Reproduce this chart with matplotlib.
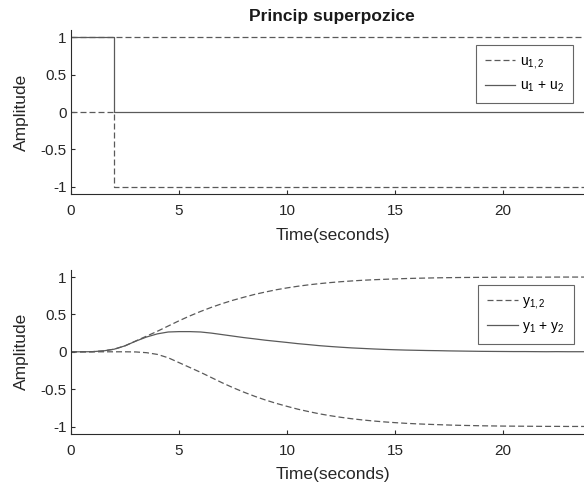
import numpy as np
import matplotlib
matplotlib.use("Agg")
import matplotlib.pyplot as plt

plt.rcParams['font.family'] = ['Liberation Sans', 'DejaVu Sans']
plt.rcParams['mathtext.fontset'] = 'custom'
plt.rcParams['mathtext.rm'] = 'Liberation Sans'
plt.rcParams['mathtext.it'] = 'Liberation Sans'

# input signals: switching times and levels (held until the next time)
t_in = [0, 2, 24]
u1 = [1, 1, 1]
u2 = [0, -1, -1]

# step response y1, sampled every 0.5 s from 0 to 24 s
t_out = np.arange(0, 24.5, 0.5)
y1 = [0.0, 0.0, 0.002, 0.012, 0.035, 0.08, 0.145, 0.21, 0.275, 0.345,
      0.415, 0.48, 0.54, 0.595, 0.645, 0.69, 0.73, 0.768, 0.80, 0.83,
      0.855, 0.877, 0.896, 0.912, 0.926, 0.938, 0.948, 0.957, 0.964, 0.970,
      0.975, 0.980, 0.984, 0.987, 0.990, 0.992, 0.994, 0.995, 0.996, 0.997,
      0.998, 0.998, 0.999, 0.999, 0.999, 1.0, 1.0, 1.0, 1.0]
delay = 2.0  # second input starts 2 s later with opposite sign

y1 = np.array(y1)
shift = int(delay / 0.5)
y2 = np.concatenate([np.zeros(shift), -y1[:-shift]])
u_sum = np.array(u1) + np.array(u2)
y_sum = y1 + y2

line_col = '#5a5a5a'
axis_col = '#2b2b2b'
dash = (4.8, 2.4)

fig = plt.figure(figsize=(5.84, 4.84), dpi=100)
ax1 = fig.add_axes([0.1216, 0.5986, 0.8877, 0.3399])
ax2 = fig.add_axes([0.1216, 0.1033, 0.8877, 0.3397])

ax1.plot(t_in, u1, color=line_col, lw=0.9, dashes=dash, drawstyle='steps-post', label=r'$\mathregular{u_{1,2}}$')
ax1.plot(t_in, u2, color=line_col, lw=0.9, dashes=dash, drawstyle='steps-post')
ax1.plot(t_in, u_sum, color=line_col, lw=0.9, drawstyle='steps-post',
         label=r'$\mathregular{u_1}$ + $\mathregular{u_2}$')

ax2.plot(t_out, y1, color=line_col, lw=0.9, dashes=dash, label=r'$\mathregular{y_{1,2}}$')
ax2.plot(t_out, y2, color=line_col, lw=0.9, dashes=dash)
ax2.plot(t_out, y_sum, color=line_col, lw=0.9,
         label=r'$\mathregular{y_1}$ + $\mathregular{y_2}$')

legend_anchor = {ax1: (0.968, 0.909), ax2: (0.970, 0.906)}

for ax in (ax1, ax2):
    ax.set_xlim(0, 24)
    ax.set_ylim(-1.1, 1.1)
    ax.set_xticks([0, 5, 10, 15, 20])
    ax.set_yticks([-1, -0.5, 0, 0.5, 1])
    ax.set_yticklabels(['-1', '-0.5', '0', '0.5', '1'])
    ax.spines['top'].set_visible(False)
    ax.spines['right'].set_visible(False)
    for s in ('left', 'bottom'):
        ax.spines[s].set_color(axis_col)
        ax.spines[s].set_linewidth(0.8)
    ax.tick_params(direction='in', length=3, width=0.8, color=axis_col,
                   labelcolor='#262626', labelsize=11)
    ax.tick_params(axis='x', pad=7)
    ax.tick_params(axis='y', pad=3)
    ax.set_xlabel('Time(seconds)', fontsize=12.5, color='#262626')
    ax.xaxis.label.set_va('center')
    ax.xaxis.set_label_coords(0.505, -0.248)
    ax.set_ylabel('Amplitude', fontsize=12.5, color='#262626')
    ax.yaxis.label.set_va('center')
    ax.yaxis.set_label_coords(-0.0965, 0.5)
    leg = ax.legend(loc='upper right', bbox_to_anchor=legend_anchor[ax],
                    fontsize=10, frameon=True, fancybox=False, framealpha=1,
                    edgecolor='#666666', handlelength=2.2, handletextpad=0.3,
                    borderpad=0.65, labelspacing=0.6, borderaxespad=0)
    leg.get_frame().set_linewidth(0.8)

fig.text(332 / 584, 1 - 17 / 484, 'Princip superpozice', ha='center', va='center',
         fontsize=12.5, fontweight='bold', color='#1a1a1a')

fig.savefig('out.png', dpi=100)
